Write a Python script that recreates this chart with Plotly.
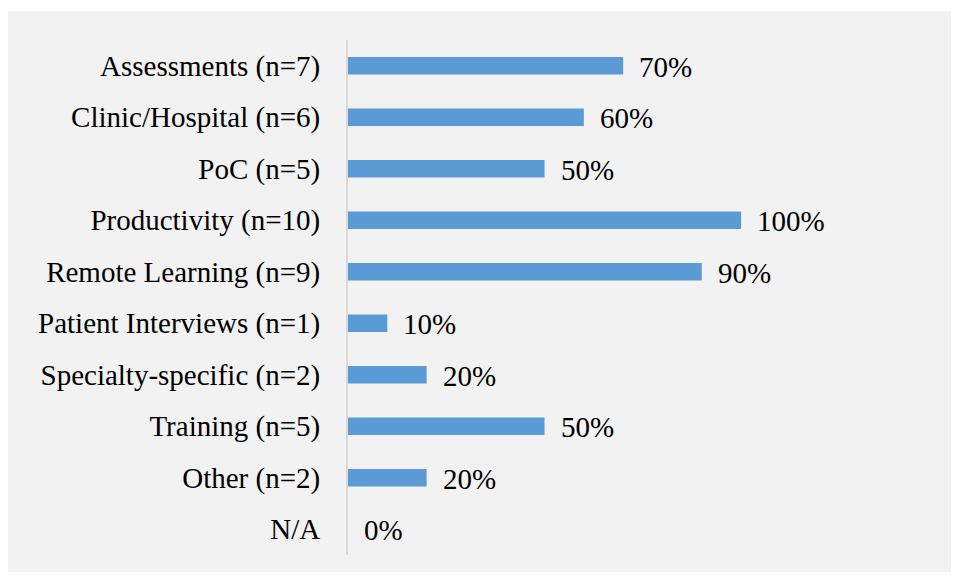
import plotly.graph_objects as go

categories = ['Assessments (n=7)', 'Clinic/Hospital (n=6)', 'PoC (n=5)', 'Productivity (n=10)',
              'Remote Learning (n=9)', 'Patient Interviews (n=1)', 'Specialty-specific (n=2)',
              'Training (n=5)', 'Other (n=2)', 'N/A']
percents = [70, 60, 50, 100, 90, 10, 20, 50, 20, 0]

font_family = 'Liberation Serif, Times New Roman, serif'

fig = go.Figure()
fig.add_trace(go.Bar(
    x=percents,
    y=categories,
    orientation='h',
    width=0.34,
    marker_color='#5b9bd5',
    marker_line_width=0,
    hoverinfo='x+y'
))

# value labels to the right of each bar
for cat, val in zip(categories, percents):
    fig.add_annotation(x=val, y=cat, text=f'{val}%', showarrow=False,
                       xanchor='left', yanchor='middle', xshift=14, yshift=-1,
                       font=dict(family=font_family, size=29, color='black'))

# light grey panel behind the chart
fig.add_shape(type='rect', xref='paper', yref='paper',
              x0=-0.667, x1=1.180, y0=-0.033, y1=1.056,
              fillcolor='#f2f2f2', line_width=0, layer='below')

# page body adds an 8px margin, so the figure is a bit smaller than the window
fig.update_layout(
    width=951, height=572,
    margin=dict(l=340, r=100, t=32, b=25),
    paper_bgcolor='white',
    plot_bgcolor='rgba(0,0,0,0)',
    showlegend=False,
    font=dict(family=font_family, size=29, color='black'),
    xaxis=dict(range=[0, 130], visible=False, fixedrange=True),
    yaxis=dict(autorange='reversed', showline=True, linecolor='#d9d9d9', linewidth=2,
               ticks='', ticklabelstandoff=20, showgrid=False, zeroline=False,
               tickfont=dict(family=font_family, size=29, color='black'))
)

fig.write_html("out.html")
